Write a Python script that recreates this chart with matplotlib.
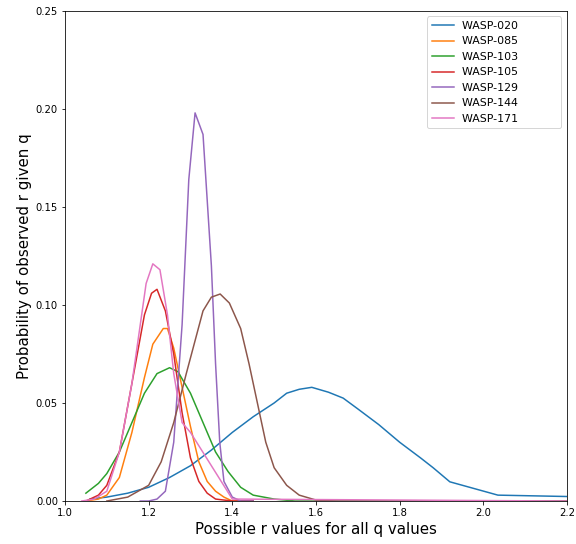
import matplotlib.pyplot as plt
import numpy as np

names = ["WASP-020", "WASP-085", "WASP-103", "WASP-105", "WASP-129", "WASP-144", "WASP-171"]

r_020 = [1.06, 1.10, 1.15, 1.20, 1.25, 1.30, 1.35, 1.40, 1.45, 1.50, 1.53, 1.56, 1.59,
         1.63, 1.665, 1.70, 1.75, 1.80, 1.85, 1.88, 1.92, 2.035, 2.20]
p_020 = [0.001, 0.002, 0.004, 0.007, 0.012, 0.018, 0.026, 0.035, 0.043, 0.050, 0.055, 0.057, 0.058,
         0.0555, 0.0525, 0.047, 0.039, 0.030, 0.022, 0.017, 0.0098, 0.003, 0.0023]

r_085 = [1.05, 1.08, 1.10, 1.13, 1.16, 1.19, 1.21, 1.235, 1.245, 1.26, 1.28, 1.30, 1.32, 1.34, 1.36, 1.38, 1.40, 1.45]
p_085 = [0.0, 0.001, 0.003, 0.012, 0.035, 0.063, 0.080, 0.088, 0.088, 0.078, 0.058, 0.038, 0.020, 0.010, 0.005, 0.002, 0.0, 0.0]

r_103 = [1.05, 1.08, 1.10, 1.13, 1.16, 1.19, 1.22, 1.25, 1.27, 1.30, 1.33, 1.36, 1.39, 1.42, 1.45, 1.50, 1.55, 2.2]
p_103 = [0.004, 0.009, 0.014, 0.025, 0.040, 0.055, 0.065, 0.068, 0.066, 0.055, 0.040, 0.025, 0.015, 0.007, 0.003, 0.001, 0.0, 0.0]

r_105 = [1.05, 1.08, 1.10, 1.13, 1.16, 1.19, 1.207, 1.22, 1.24, 1.26, 1.28, 1.30, 1.32, 1.34, 1.36, 1.40, 1.45]
p_105 = [0.0, 0.003, 0.008, 0.025, 0.060, 0.095, 0.106, 0.108, 0.097, 0.075, 0.045, 0.022, 0.010, 0.004, 0.001, 0.0, 0.0]

r_129 = [1.18, 1.20, 1.22, 1.24, 1.26, 1.28, 1.296, 1.311, 1.33, 1.35, 1.36, 1.37, 1.38, 1.40, 1.42, 1.45]
p_129 = [0.0, 0.0, 0.001, 0.005, 0.030, 0.090, 0.164, 0.198, 0.187, 0.120, 0.070, 0.030, 0.010, 0.002, 0.0, 0.0]

r_144 = [1.10, 1.15, 1.20, 1.23, 1.26, 1.29, 1.31, 1.33, 1.35, 1.371, 1.393, 1.42, 1.44, 1.46, 1.48, 1.50,
         1.53, 1.56, 1.60, 1.65, 2.2]
p_144 = [0.0, 0.002, 0.008, 0.020, 0.040, 0.065, 0.081, 0.097, 0.104, 0.1056, 0.101, 0.088, 0.070, 0.050,
         0.030, 0.017, 0.008, 0.003, 0.0005, 0.0, 0.0]

r_171 = [1.04, 1.07, 1.10, 1.13, 1.16, 1.18, 1.194, 1.21, 1.227, 1.245, 1.26, 1.28, 1.30, 1.35, 1.40, 2.2]
p_171 = [0.0, 0.001, 0.005, 0.025, 0.060, 0.090, 0.111, 0.121, 0.118, 0.095, 0.065, 0.040, 0.035, 0.018, 0.001, 0.0]

rs = [r_020, r_085, r_103, r_105, r_129, r_144, r_171]
ps = [p_020, p_085, p_103, p_105, p_129, p_144, p_171]

fig = plt.figure(figsize=(8, 7.556), dpi=72)
ax = fig.add_axes([0.1128, 0.079, 0.8715, 0.9008])
for name, r, p in zip(names, rs, ps):
    # trailing spaces widen the legend box like in the original
    ax.plot(r, p, label=name + " " * 11, linewidth=1.5)

ax.set_xlim(1.0, 2.2)
ax.set_ylim(0, 0.25)
ax.set_xticks(np.arange(1.0, 2.21, 0.2))
ax.set_yticks(np.arange(0, 0.251, 0.05))
ax.tick_params(labelsize=10)
ax.set_xlabel("Possible r values for all q values", fontsize=15)
ax.set_ylabel("Probability of observed r given q", fontsize=15)
ax.legend(loc="upper right", fontsize=11)

plt.savefig("out.png", dpi=72)
